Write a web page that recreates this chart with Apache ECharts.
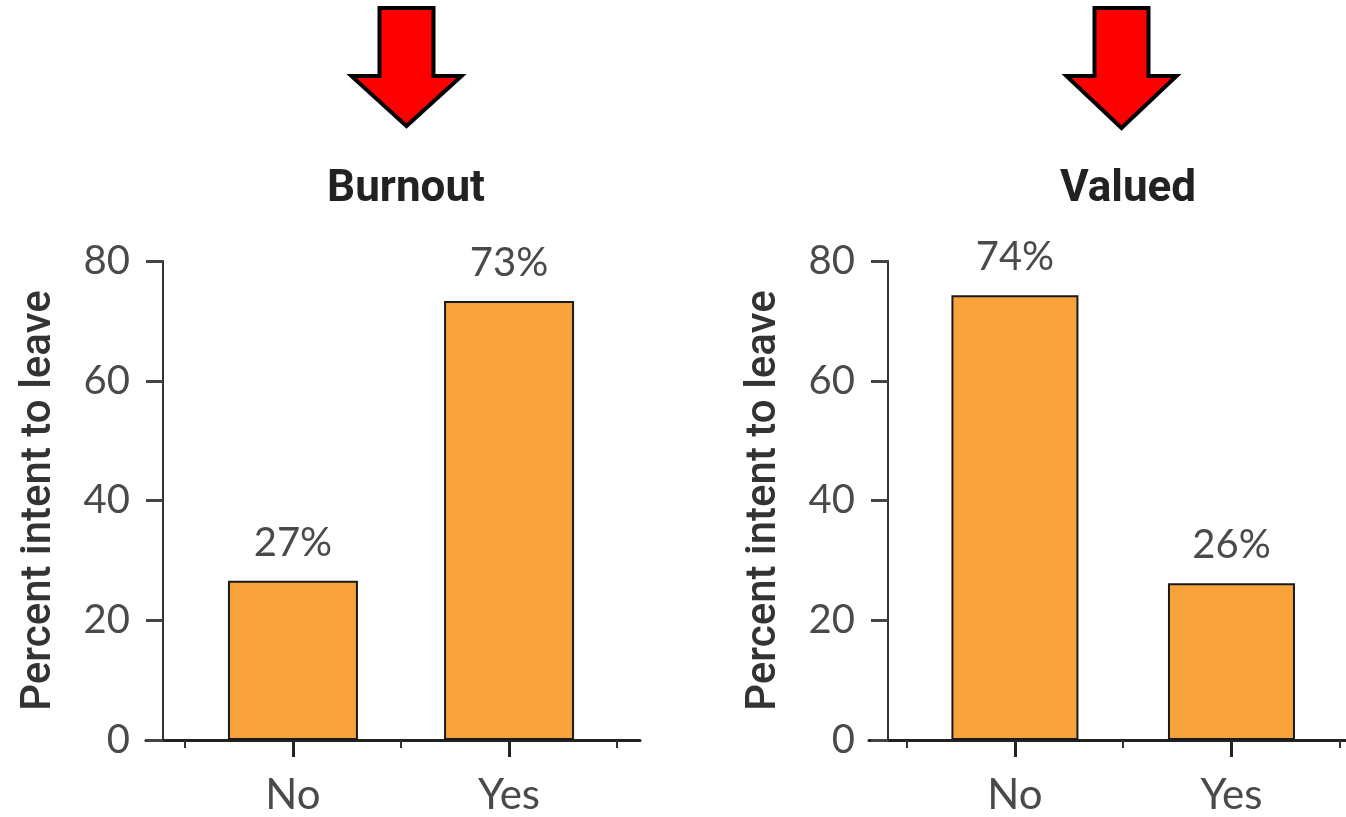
<!DOCTYPE html>
<html>
<head>
<meta charset="utf-8">
<script src="https://cdn.jsdelivr.net/npm/echarts@6/dist/echarts.min.js"></script>
<style>
html,body{margin:0;padding:0;background:#fff;}
#c{width:1346px;height:817px;}
</style>
</head>
<body>
<div id="c"></div>
<script>
// ---- data ----
const categories = ['No', 'Yes'];
const panelTitles = ['Burnout', 'Valued'];
const burnoutValues = [26.6, 73.3];
const valuedValues = [74.3, 26.2];
const yTicks = [0, 20, 40, 60, 80];
const yAxisName = 'Percent intent to leave';

const chart = echarts.init(document.getElementById('c'));

const barColor = '#F7A23B';
const dark = '#222';
const tickLabel = '#4a4a4a';

const gridBoxes = [
  { left: 146, width: 494, top: 261, height: 479 },
  { left: 869, width: 477, top: 261, height: 479 }
];
const panelX = [
  { min: -0.68, max: 1.606, yOffset: -17, barWidth: 130 },
  { min: -0.674, max: 1.529, yOffset: -19, barWidth: 127 }
];

const xAxes = [], yAxes = [], series = [];
[burnoutValues, valuedValues].forEach((vals, g) => {
  const px = panelX[g];
  const centers = categories.map((_, i) => i);
  const bounds = [-0.5].concat(categories.map((_, i) => i + 0.5));
  xAxes.push({
    type: 'value', gridIndex: g, min: px.min, max: px.max,
    axisLine: { show: true, onZero: false, lineStyle: { color: dark, width: 3 } },
    axisTick: { show: true, customValues: bounds, length: 8, lineStyle: { color: '#333', width: 2 } },
    axisLabel: { show: false },
    splitLine: { show: false }
  });
  xAxes.push({
    type: 'value', gridIndex: g, min: px.min, max: px.max, position: 'bottom',
    axisLine: { show: false, onZero: false },
    axisTick: { show: true, customValues: centers, length: 17, lineStyle: { color: dark, width: 3 } },
    axisLabel: {
      show: true, customValues: centers, margin: 34,
      formatter: v => categories[Math.round(v)] || '',
      fontFamily: 'Lato', fontSize: 42, color: tickLabel
    },
    splitLine: { show: false }
  });
  yAxes.push({
    type: 'value', gridIndex: g, min: 0, max: 80, interval: 20,
    offset: px.yOffset,
    name: yAxisName, nameLocation: 'middle', nameGap: 103,
    nameTextStyle: { fontFamily: 'Roboto', fontWeight: 500, fontSize: 42, color: '#333' },
    axisLine: { show: true, onZero: false, lineStyle: { color: '#333', width: 2 } },
    axisTick: { show: true, length: 17, lineStyle: { color: '#444', width: 3 } },
    axisLabel: { margin: 33, fontFamily: 'Lato', fontSize: 40, color: tickLabel,
      customValues: yTicks },
    splitLine: { show: false }
  });
  series.push({
    type: 'bar', xAxisIndex: g * 2, yAxisIndex: g,
    data: vals.map((v, i) => [i, v]),
    barWidth: px.barWidth,
    itemStyle: { color: barColor, borderColor: '#1a1a1a', borderWidth: 2 },
    label: {
      show: true, position: 'top', distance: 18,
      formatter: p => Math.round(p.value[1]) + '%',
      fontFamily: 'Lato', fontSize: 40, color: tickLabel
    }
  });
});

function arrow(cx, top, shoulder, halfShaft, halfHead, tip) {
  return {
    type: 'polygon',
    shape: { points: [
      [cx - halfShaft, top], [cx + halfShaft, top], [cx + halfShaft, shoulder],
      [cx + halfHead, shoulder], [cx, tip], [cx - halfHead, shoulder], [cx - halfShaft, shoulder]
    ] },
    style: { fill: '#FF0000', stroke: '#000', lineWidth: 4, lineJoin: 'miter' }
  };
}

chart.setOption({
  animation: false,
  backgroundColor: '#fff',
  title: panelTitles.map((t, i) => ({
    text: t, left: i === 0 ? 401 : 1123, top: 163, textAlign: 'center',
    textStyle: { fontFamily: 'Roboto', fontWeight: 'bold', fontSize: 44, color: '#222' }
  })),
  grid: gridBoxes,
  xAxis: xAxes,
  yAxis: yAxes,
  series: series,
  graphic: [
    arrow(406.5, 8, 76, 27, 55, 126),
    arrow(1121.5, 8, 76, 27, 55, 128)
  ]
});
</script>
</body>
</html>
